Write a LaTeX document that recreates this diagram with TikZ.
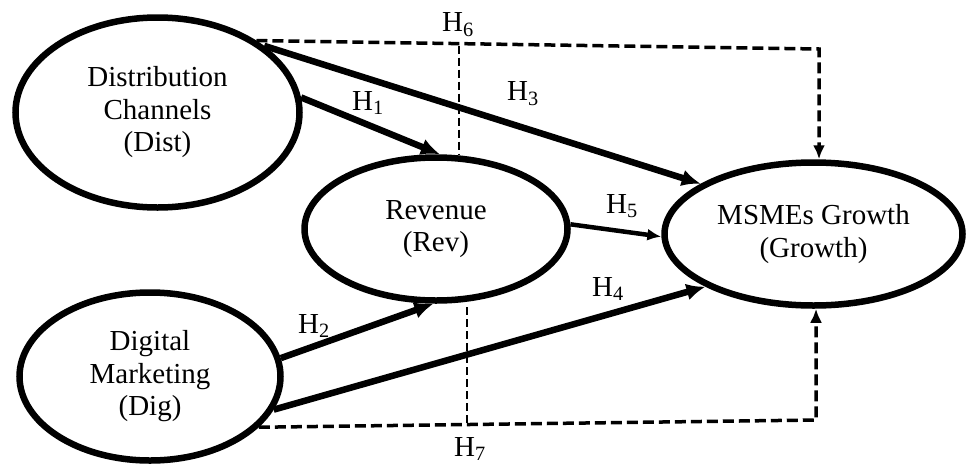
\documentclass[tikz,border=0pt]{standalone}
\usepackage{fontspec}
\setmainfont{Liberation Serif}
\usetikzlibrary{shapes.geometric,arrows.meta,calc}
\begin{document}
\begin{tikzpicture}[x=1pt,y=-1pt,
  construct/.style={ellipse,draw,line width=6.5pt,inner sep=0pt,align=center,
    font=\fontsize{29}{32.5}\selectfont},
  hyp/.style={line width=6.5pt,-{Latex[length=19pt,width=17pt]}},
  hypthin/.style={line width=4.5pt,-{Latex[length=14pt,width=12pt]}},
  med/.style={line width=3.5pt,dash pattern=on 11pt off 5pt},
  medarrow/.style={med,-{Latex[length=14pt,width=12pt]}},
  link/.style={line width=2.5pt,dash pattern=on 8pt off 4pt},
  lbl/.style={font=\fontsize{29}{32}\selectfont,inner sep=0pt}
]
\useasboundingbox (0,0) rectangle (968,466);

\node[construct,minimum width=284pt,minimum height=190pt] (dist) at (157.5,112.5) {Distribution\\Channels\\(Dist)};
\node[construct,minimum width=263pt,minimum height=143pt] (rev) at (436,229) {Revenue\\(Rev)};
\node[construct,minimum width=298pt,minimum height=143pt] (growth) at (813.5,234) {MSMEs Growth\\(Growth)};
\node[construct,minimum width=261pt,minimum height=168pt] (dig) at (150,376.5) {Digital\\Marketing\\(Dig)};

% direct hypotheses
\draw[hyp] (dist.6) -- (rev.87);
\draw[hyp] (dist.32) -- (growth.156);
\draw[hypthin] (rev.2) -- (growth.181);
\draw[hyp] (dig.8) -- (rev.-92);
\draw[hyp] (dig.-15) -- (growth.206);

% mediation H6
\coordinate (h6c) at (819,49);
\coordinate (h6m) at (459,45.5);
\draw[medarrow] (dist.36) -- (h6c) -- (h6c |- growth.north);
\draw[link] (h6m) -- (h6m |- rev.north);

% mediation H7
\coordinate (h7c) at (816,420);
\coordinate (h7m) at (467,422.5);
\draw[medarrow] (dig.-25) -- (h7c) -- (h7c |- growth.south);
\draw[link] (h7m) -- (h7m |- rev.south);

% labels
\node[lbl] (l1) at (368,103) {H\textsubscript{1}};
\node[lbl] (l2) at (314,326) {H\textsubscript{2}};
\node[lbl] (l3) at (523,94) {H\textsubscript{3}};
\node[lbl] (l4) at (608,289) {H\textsubscript{4}};
\node[lbl] (l5) at (622,206) {H\textsubscript{5}};
\node[lbl] (l6) at (458,25) {H\textsubscript{6}};
\node[lbl] (l7) at (470,449) {H\textsubscript{7}};
\end{tikzpicture}
\end{document}
